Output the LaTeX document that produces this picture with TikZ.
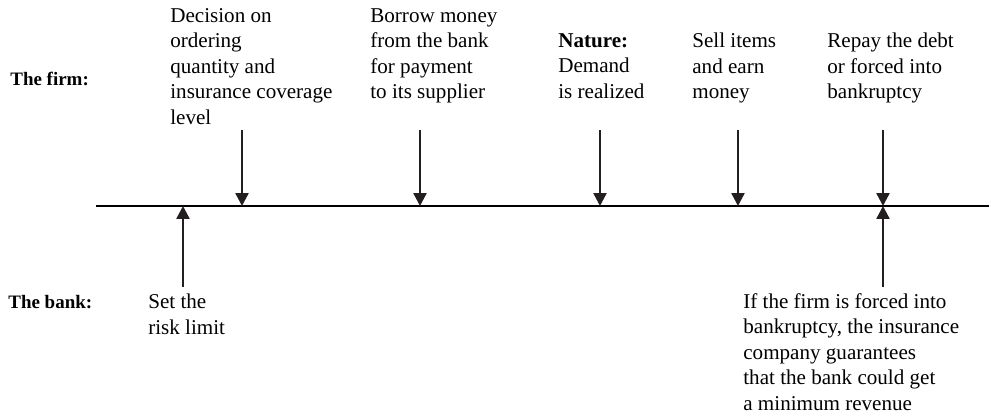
\documentclass[tikz,border=0pt]{standalone}
\usepackage{fontspec}
\setmainfont{Liberation Serif}
\usetikzlibrary{arrows.meta}
\definecolor{inkdark}{HTML}{231F20}
\tikzset{
	event/.style={inner sep=0pt,anchor=north west,align=left,font=\fontsize{12}{14.5}\selectfont},
	player/.style={inner sep=0pt,anchor=base west,font=\fontsize{10.8}{12}\selectfont\bfseries},
	timearrow/.style={draw=inkdark,line width=1.4pt,->}
}
\begin{document}
\begin{tikzpicture}[>={Triangle[length=0.26cm,width=0.26cm]},x=0.02cm,y=-0.02cm]
	\useasboundingbox (0,0) rectangle (991,419);
	% the two players
	\node[player] (firm) at (10,85) {The firm:};
	\node[player] (bank) at (8,308) {The bank:};
	% time line
	\coordinate (tstart) at (96,206);
	\coordinate (tend) at (989,206);
	\draw[line width=1.1pt] (tstart) -- (tend);
	% what the firm does
	\node[event] (decide) at (170,8) {Decision on\\ordering\\quantity and\\insurance coverage\\level};
	\node[event] (borrow) at (370,8) {Borrow money\\from the bank\\for payment\\to its supplier};
	\node[event] (nature) at (558,33) {\textbf{Nature:}\\Demand\\is realized};
	\node[event] (sell) at (692,33) {Sell items\\and earn\\money};
	\node[event] (repay) at (827,33) {Repay the debt\\or forced into\\bankruptcy};
	\foreach \x/\n in {242/1,420/2,600/3,738/4,883/5}{
		\coordinate (top\n) at (\x,130);
		\coordinate (tick\n) at (\x,206);
		\draw[timearrow] (top\n) -- (tick\n);
	}
	% what the bank gets
	\node[event] (limit) at (148,294) {Set the\\risk limit};
	\node[event] (insure) at (743,293) {If the firm is forced into\\bankruptcy, the insurance\\company guarantees\\that the bank could get\\a minimum revenue};
	\coordinate (low1) at (183,287);
	\coordinate (up1) at (183,206);
	\coordinate (low2) at (883,287);
	\coordinate (up2) at (883,206);
	\draw[timearrow] (low1) -- (up1);
	\draw[timearrow] (low2) -- (up2);
\end{tikzpicture}
\end{document}
